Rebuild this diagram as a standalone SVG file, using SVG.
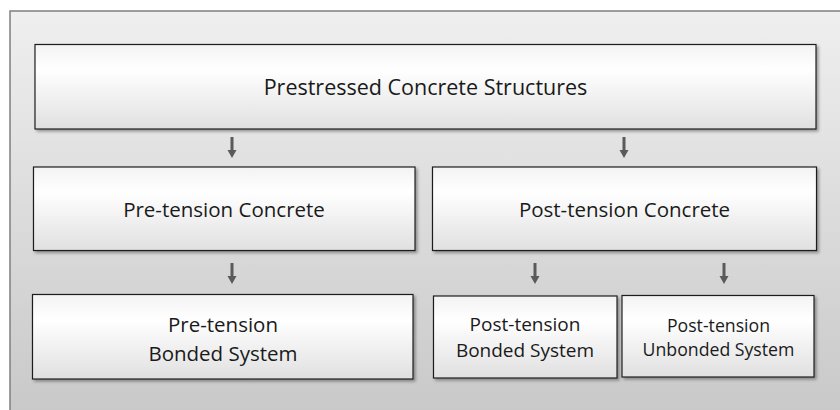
<svg xmlns="http://www.w3.org/2000/svg" width="840" height="410" viewBox="0 0 840 410">
  <defs>
    <linearGradient id="bg" x1="0" y1="0" x2="0" y2="1">
      <stop offset="0" stop-color="#efefef"/>
      <stop offset="1" stop-color="#c8c8c8"/>
    </linearGradient>
    <linearGradient id="boxfill" x1="0" y1="0" x2="0" y2="1">
      <stop offset="0" stop-color="#f3f3f3"/>
      <stop offset="0.3" stop-color="#ffffff"/>
      <stop offset="1" stop-color="#e0e0e0"/>
    </linearGradient>
    <filter id="shadow" x="-5%" y="-10%" width="115%" height="130%">
      <feDropShadow dx="2" dy="2" stdDeviation="1.5" flood-color="#000" flood-opacity="0.35"/>
    </filter>
    <marker id="arrow" viewBox="0 0 10 10" refX="5" refY="10" markerWidth="9" markerHeight="8" markerUnits="userSpaceOnUse" orient="auto-start-reverse">
      <path d="M0,0 L10,0 L5,10 Z" fill="#5a5a5a"/>
    </marker>
  </defs>
  <style>
    .box { fill: url(#boxfill); stroke: #1e1e1e; stroke-width: 1.2; filter: url(#shadow); }
    .lbl { font-family: "Open Sans", "Noto Sans", sans-serif; fill: #1a1a1a; text-anchor: middle; }
    .conn { stroke: #5a5a5a; stroke-width: 3; fill: none; }
    .head { fill: #5a5a5a; }
  </style>
  <rect x="0" y="0" width="840" height="410" fill="#ffffff"/>
  <rect id="frame" x="10" y="11" width="840" height="410" fill="url(#bg)" stroke="#7f7f7f" stroke-width="1.5"/>

  <g id="connectors">
    <line class="conn" x1="232" y1="137" x2="232" y2="151"/>
    <path class="head" d="M227.5,150 L236.5,150 L232,158 Z"/>
    <line class="conn" x1="624" y1="137" x2="624" y2="151"/>
    <path class="head" d="M619.5,150 L628.5,150 L624,158 Z"/>
    <line class="conn" x1="232" y1="263" x2="232" y2="277"/>
    <path class="head" d="M227.5,276 L236.5,276 L232,284 Z"/>
    <line class="conn" x1="535" y1="263" x2="535" y2="277"/>
    <path class="head" d="M530.5,276 L539.5,276 L535,284 Z"/>
    <line class="conn" x1="724" y1="263" x2="724" y2="277"/>
    <path class="head" d="M719.5,276 L728.5,276 L724,284 Z"/>
  </g>

  <g id="n-prestressed">
    <rect class="box" x="35" y="44.5" width="781" height="84.5"/>
    <text class="lbl" x="425.5" y="95" font-size="21.5">Prestressed Concrete Structures</text>
  </g>
  <g id="n-pretension">
    <rect class="box" x="33.5" y="167" width="381.5" height="83.5"/>
    <text class="lbl" x="224" y="217" font-size="20.5">Pre-tension Concrete</text>
  </g>
  <g id="n-posttension">
    <rect class="box" x="432.5" y="167" width="384" height="83.5"/>
    <text class="lbl" x="624.5" y="217" font-size="20.5">Post-tension Concrete</text>
  </g>
  <g id="n-pre-bonded">
    <rect class="box" x="32.5" y="294.5" width="380.5" height="84.5"/>
    <text class="lbl" x="223" y="331.5" font-size="20.5">Pre-tension</text>
    <text class="lbl" x="223" y="360.5" font-size="20.5">Bonded System</text>
  </g>
  <g id="n-post-bonded">
    <rect class="box" x="433.5" y="296" width="183.5" height="82"/>
    <text class="lbl" x="525" y="331" font-size="19">Post-tension</text>
    <text class="lbl" x="525" y="357" font-size="19">Bonded System</text>
  </g>
  <g id="n-post-unbonded">
    <rect class="box" x="622" y="295.5" width="192" height="81.5"/>
    <text class="lbl" x="718.5" y="331.5" font-size="17.7">Post-tension</text>
    <text class="lbl" x="718.5" y="356" font-size="17.7">Unbonded System</text>
  </g>
</svg>
